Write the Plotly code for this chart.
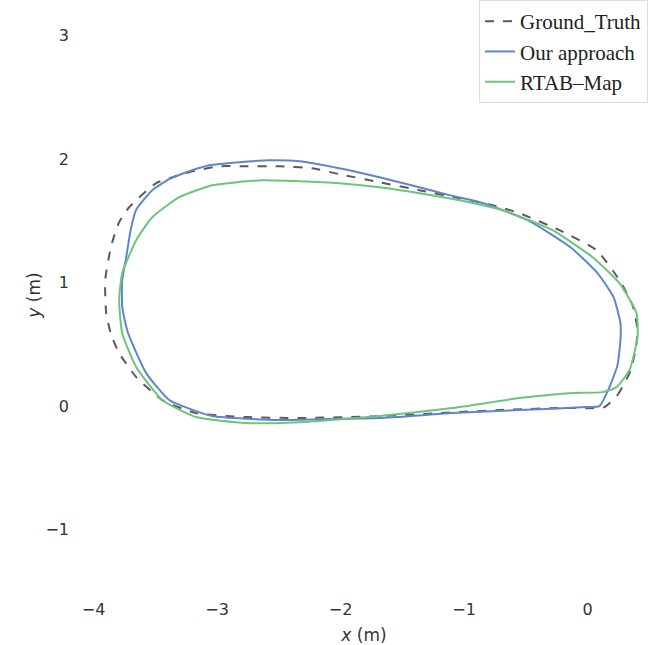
import plotly.graph_objects as go

# Ground truth trajectory (m)
gt_x = [0.138, 0.243, 0.340, 0.389, 0.405, 0.365, 0.259, 0.073, -0.227, -0.551, -0.770, -1.037,
        -1.361, -1.685, -2.010, -2.229, -2.496, -2.763, -2.982, -3.225, -3.493, -3.712, -3.793,
        -3.857, -3.906, -3.898, -3.857, -3.793, -3.655, -3.444, -3.169, -2.763, -2.334, -1.685,
        -1.199, -0.713, -0.227, 0.057, 0.138]
gt_y = [-0.008, 0.089, 0.267, 0.453, 0.615, 0.818, 1.020, 1.263, 1.425, 1.563, 1.628, 1.684,
        1.749, 1.814, 1.879, 1.927, 1.943, 1.943, 1.943, 1.895, 1.806, 1.611, 1.490,
        1.300, 1.020, 0.753, 0.575, 0.429, 0.235, 0.049, -0.057, -0.089, -0.097, -0.081,
        -0.057, -0.032, -0.016, -0.016, -0.008]

# Our approach trajectory (m)
ours_x = [0.097, 0.178, 0.243, 0.267, 0.267, 0.211, 0.081, -0.138, -0.470, -0.818, -1.118, -1.361,
          -1.685, -2.010, -2.334, -2.577, -2.820, -3.063, -3.225, -3.387, -3.525, -3.655, -3.700,
          -3.736, -3.768, -3.768, -3.728, -3.663, -3.574, -3.387, -3.039, -2.496, -2.091, -1.685,
          -1.094, -0.551, -0.008, 0.097]
ours_y = [0.000, 0.154, 0.332, 0.534, 0.672, 0.883, 1.077, 1.287, 1.498, 1.636, 1.709, 1.773,
          1.854, 1.927, 1.984, 1.992, 1.976, 1.951, 1.903, 1.838, 1.749, 1.590, 1.425,
          1.206, 1.020, 0.802, 0.615, 0.453, 0.267, 0.049, -0.081, -0.113, -0.105, -0.097,
          -0.057, -0.032, -0.008, 0.000]

# RTAB-Map trajectory (m)
rtab_x = [0.122, 0.235, 0.340, 0.405, 0.397, 0.259, 0.041, -0.284, -0.689, -1.037, -1.361, -1.685,
          -2.010, -2.334, -2.634, -3.039, -3.306, -3.525, -3.655, -3.768, -3.793, -3.768, -3.655,
          -3.444, -3.169, -2.763, -2.334, -1.685, -1.094, -0.551, -0.146, 0.122]
rtab_y = [0.113, 0.154, 0.291, 0.559, 0.753, 0.996, 1.206, 1.425, 1.587, 1.668, 1.725, 1.773,
          1.806, 1.822, 1.830, 1.789, 1.692, 1.530, 1.344, 1.077, 0.858, 0.591, 0.316,
          0.049, -0.089, -0.138, -0.130, -0.081, -0.016, 0.065, 0.105, 0.113]

x_ticks = [-4, -3, -2, -1, 0]
x_tick_labels = ["\u22124", "\u22123", "\u22122", "\u22121", "0"]
y_ticks = [-1, 0, 1, 2, 3]
y_tick_labels = ["\u22121", "0", "1", "2", "3"]

fig = go.Figure()
fig.add_trace(go.Scatter(x=gt_x, y=gt_y, mode="lines", name="Ground_Truth",
                         line=dict(color="#5a5a5a", width=2, dash="dash", shape="spline", smoothing=0.5)))
fig.add_trace(go.Scatter(x=ours_x, y=ours_y, mode="lines", name="Our approach",
                         line=dict(color="#5f86cc", width=2, shape="spline", smoothing=0.5)))
fig.add_trace(go.Scatter(x=rtab_x, y=rtab_y, mode="lines", name="RTAB\u2013Map",
                         line=dict(color="#6cc57a", width=2, shape="spline", smoothing=0.5)))

tick_font = dict(family="DejaVu Sans", size=16, color="#333333")
fig.update_layout(
    width=648, height=645,
    margin=dict(l=80, r=0, t=0, b=55),
    paper_bgcolor="white", plot_bgcolor="white",
    xaxis=dict(range=[-4.11, 0.49], tickvals=x_ticks, ticktext=x_tick_labels,
               showgrid=False, zeroline=False, showline=False, ticks="",
               tickfont=tick_font, automargin=False, ticklabelstandoff=8,
               title=dict(text="<i>x</i> (m)", font=dict(family="DejaVu Sans", size=17, color="#333333"), standoff=12)),
    yaxis=dict(range=[-1.49, 3.29], tickvals=y_ticks, ticktext=y_tick_labels,
               showgrid=False, zeroline=False, showline=False, ticks="",
               tickfont=tick_font, automargin=False, ticklabelstandoff=10,
               title=dict(text="<i>y</i> (m)", font=dict(family="DejaVu Sans", size=17, color="#333333"), standoff=0)),
    legend=dict(x=1, y=1, xanchor="right", yanchor="top",
                font=dict(family="Liberation Serif", size=21, color="#222222"),
                bgcolor="white", bordercolor="#dddddd", borderwidth=1,
                itemwidth=30, tracegroupgap=0),
    showlegend=True,
)

fig.write_html("out.html")
